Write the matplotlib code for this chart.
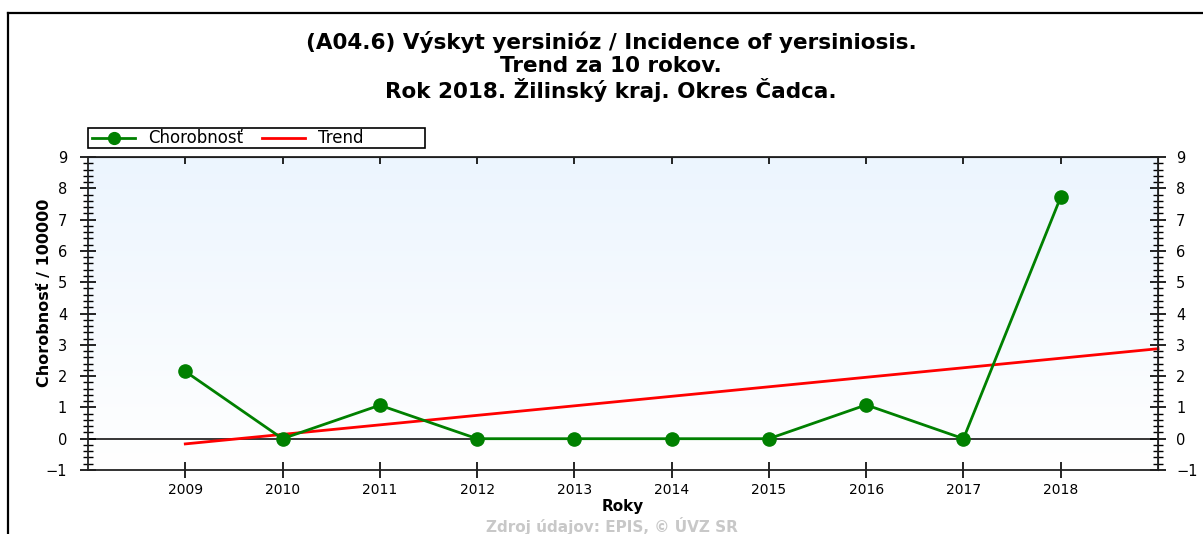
import numpy as np
import matplotlib
matplotlib.use("Agg")
import matplotlib.pyplot as plt
from matplotlib.ticker import MultipleLocator
from matplotlib.lines import Line2D
from matplotlib.patches import Rectangle

plt.rcParams['font.family'] = ['DejaVu Sans']

years = [2009, 2010, 2011, 2012, 2013, 2014, 2015, 2016, 2017, 2018]
incidence = [2.15, 0.0, 1.07, 0.0, 0.0, 0.0, 0.0, 1.08, 0.0, 7.72]
title_lines = ["(A04.6) Výskyt yersinióz / Incidence of yersiniosis.",
               "Trend za 10 rokov.",
               "Rok 2018. Žilinský kraj. Okres Čadca."]
series_labels = ["Chorobnosť", "Trend"]
y_label = "Chorobnosť / 100000"
x_label = "Roky"
source = "Zdroj údajov: EPIS, © ÚVZ SR"

GREEN = '#008000'
RED = '#ff0000'

W, H = 1203, 534
fig = plt.figure(figsize=(W / 100, H / 100), dpi=100)
fig.patch.set_facecolor('white')


def fx(px):
    return px / W


def fy(py):
    return 1 - py / H


# outer frame lines
fig.add_artist(Line2D([fx(8), fx(8)], [0, fy(13)], color='black', lw=1.6, transform=fig.transFigure))
fig.add_artist(Line2D([fx(8), 1], [fy(13), fy(13)], color='black', lw=1.6, transform=fig.transFigure))

L, R, T, B = 88, 1158, 157, 470
ax = fig.add_axes([fx(L), fy(B), (R - L) / W, (B - T) / H])

# gradient background
grad = np.linspace(0, 1, 256).reshape(-1, 1)
top = np.array([236, 245, 254]) / 255.0
bot = np.array([255, 255, 255]) / 255.0
img = top[None, None, :] * (1 - grad[:, :, None]) + bot[None, None, :] * grad[:, :, None]
ax.imshow(img, extent=[0, 1, 0, 1], transform=ax.transAxes, aspect='auto', zorder=0)

ax.set_xlim(2008, 2019)
ax.set_ylim(-1, 9)

ax.axhline(0, color='black', lw=1.1, zorder=1)

# trend (least squares over the years)
coef = np.polyfit(years, incidence, 1)
tx = np.array([years[0], 2019])
ax.plot(tx, np.polyval(coef, tx), color=RED, lw=2.0, zorder=2, clip_on=False)

ax.plot(years, incidence, color=GREEN, lw=2.0, marker='o', markersize=9.5, zorder=3)

ax.set_xticks(years)
ax.set_xticklabels([str(y) for y in years])
ax.yaxis.set_major_locator(MultipleLocator(1))
ax.yaxis.set_minor_locator(MultipleLocator(0.2))
ax.tick_params(axis='x', direction='inout', length=11, width=1.2, labelsize=10, pad=4)
ax.tick_params(axis='y', which='major', direction='inout', length=12, width=1.2, labelsize=10.5, pad=9)
ax.tick_params(axis='y', which='minor', direction='inout', length=7, width=1.0)

for s in ax.spines.values():
    s.set_linewidth(1.3)
    s.set_color('#222222')

secx = ax.secondary_xaxis('top')
secx.set_xticks(years)
secx.set_xticklabels([])
secx.tick_params(direction='in', length=5, width=1.2)

secy = ax.secondary_yaxis('right')
secy.yaxis.set_major_locator(MultipleLocator(1))
secy.yaxis.set_minor_locator(MultipleLocator(0.2))
secy.tick_params(which='major', direction='inout', length=12, width=1.2, labelsize=10.5, pad=7)
secy.tick_params(which='minor', direction='inout', length=7, width=1.0)

ax.set_ylabel(y_label, fontsize=11.5, fontweight='bold', va='center')
ax.yaxis.set_label_coords(-(L - 45) / (R - L), (B - 293) / (B - T))
ax.set_xlabel(x_label, fontsize=11, fontweight='bold', labelpad=1)

for i, line in enumerate(title_lines):
    fig.text(0.508, fy(42 + i * 24), line, ha='center', va='center',
             fontsize=15.5, fontweight='bold')

# legend box drawn in figure pixels
fig.add_artist(Rectangle((fx(88), fy(148)), fx(425) - fx(88), fy(128) - fy(148),
                         transform=fig.transFigure, fill=True, facecolor='white',
                         edgecolor='black', lw=1.2))
ly = fy(138)
fig.add_artist(Line2D([fx(92), fx(135)], [ly, ly], color=GREEN, lw=2, transform=fig.transFigure))
fig.add_artist(Line2D([fx(113.5)], [ly], color=GREEN, marker='o', markersize=8.5, transform=fig.transFigure))
fig.text(fx(148), ly, series_labels[0], ha='left', va='center', fontsize=12)
fig.add_artist(Line2D([fx(262), fx(305)], [ly, ly], color=RED, lw=2, transform=fig.transFigure))
fig.text(fx(318), ly, series_labels[1], ha='left', va='center', fontsize=12)

fig.text(0.509, fy(526), source, ha='center', va='center', fontsize=11,
         fontweight='bold', color='#c8c8c8')

fig.savefig('out.png', dpi=100)
